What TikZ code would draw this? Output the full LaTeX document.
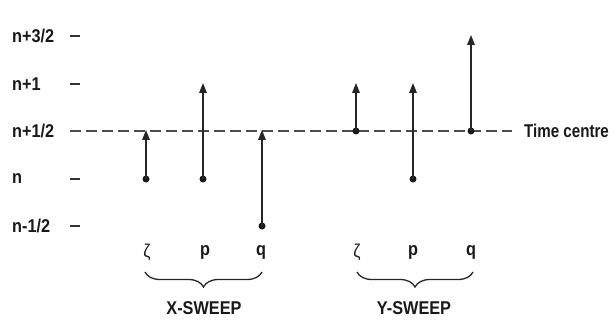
\documentclass[tikz,border=0pt]{standalone}
\usepackage{fontspec}
\setmainfont{Liberation Sans}[FakeStretch=0.88]
\usetikzlibrary{arrows.meta,decorations.pathreplacing}
\begin{document}
\begin{tikzpicture}[x=1pt,y=-1pt,
  lbl/.style={font=\fontsize{18.5}{22}\selectfont\bfseries, text=black!90, inner sep=0pt},
  level/.style={lbl, anchor=west},
  tick/.style={line width=1.6pt, black!80},
  vec/.style={line width=1.4pt, black!85, -{Triangle[length=10pt,width=7.5pt]}, shorten >=-1pt},
  dot/.style={circle, fill=black!90, inner sep=0pt, minimum size=7pt},
  centre/.style={line width=1.5pt, black!70, dash pattern=on 11pt off 5pt},
  sweep/.style={decorate, decoration={brace, mirror, amplitude=15pt}, line width=1.3pt, black!85}]
\useasboundingbox (0,0) rectangle (614,329);

% time levels
\node[level] (l32) at (12,36)  {n+3/2};
\node[level] (l1)  at (12,84)  {n+1};
\node[level] (l12) at (12,131) {n+1/2};
\node[level] (l0)  at (12,179) {n};
\node[level] (lm)  at (12,226) {n-1/2};
\draw[tick] (70,36) -- (80,36);
\draw[tick] (70,84) -- (80,84);
\draw[tick] (70,179) -- (80,179);
\draw[tick] (70,226) -- (80,226);

% time centre line
\coordinate (cl) at (70,131);
\coordinate (cr) at (512,131);
\draw[centre] (cl) -- (cr);
\node[lbl, anchor=west] (tc) at (524,131) {\scalebox{0.93}[1]{Time centre}};

% X-sweep vectors
\node[dot] (xz0) at (146,179) {};
\coordinate (xz1) at (146,131);
\node[dot] (xp0) at (203,179) {};
\coordinate (xp1) at (203,84);
\node[dot] (xq0) at (262,226) {};
\coordinate (xq1) at (262,131);
\draw[vec] (xz0.center) -- (xz1);
\draw[vec] (xp0.center) -- (xp1);
\draw[vec] (xq0.center) -- (xq1);

% Y-sweep vectors
\node[dot] (yz0) at (356,131) {};
\coordinate (yz1) at (356,84);
\node[dot] (yp0) at (413,179) {};
\coordinate (yp1) at (413,84);
\node[dot] (yq0) at (471,131) {};
\coordinate (yq1) at (471,36);
\draw[vec] (yz0.center) -- (yz1);
\draw[vec] (yp0.center) -- (yp1);
\draw[vec] (yq0.center) -- (yq1);

% variable labels
\node[lbl] (xz) at (147,252) {\mdseries ζ};
\node[lbl] (xp) at (205,252) {p};
\node[lbl] (xq) at (261,252) {q};
\node[lbl] (yz) at (357,252) {\mdseries ζ};
\node[lbl] (yp) at (413,252) {p};
\node[lbl] (yq) at (471,252) {q};

% braces
\coordinate (xb1) at (145,272);
\coordinate (xb2) at (262,272);
\coordinate (yb1) at (357,272);
\coordinate (yb2) at (473,272);
\draw[sweep] (xb1) -- (xb2);
\draw[sweep] (yb1) -- (yb2);
\node[lbl] (xs) at (204,308) {X-SWEEP};
\node[lbl] (ys) at (414,308) {Y-SWEEP};
\end{tikzpicture}
\end{document}
